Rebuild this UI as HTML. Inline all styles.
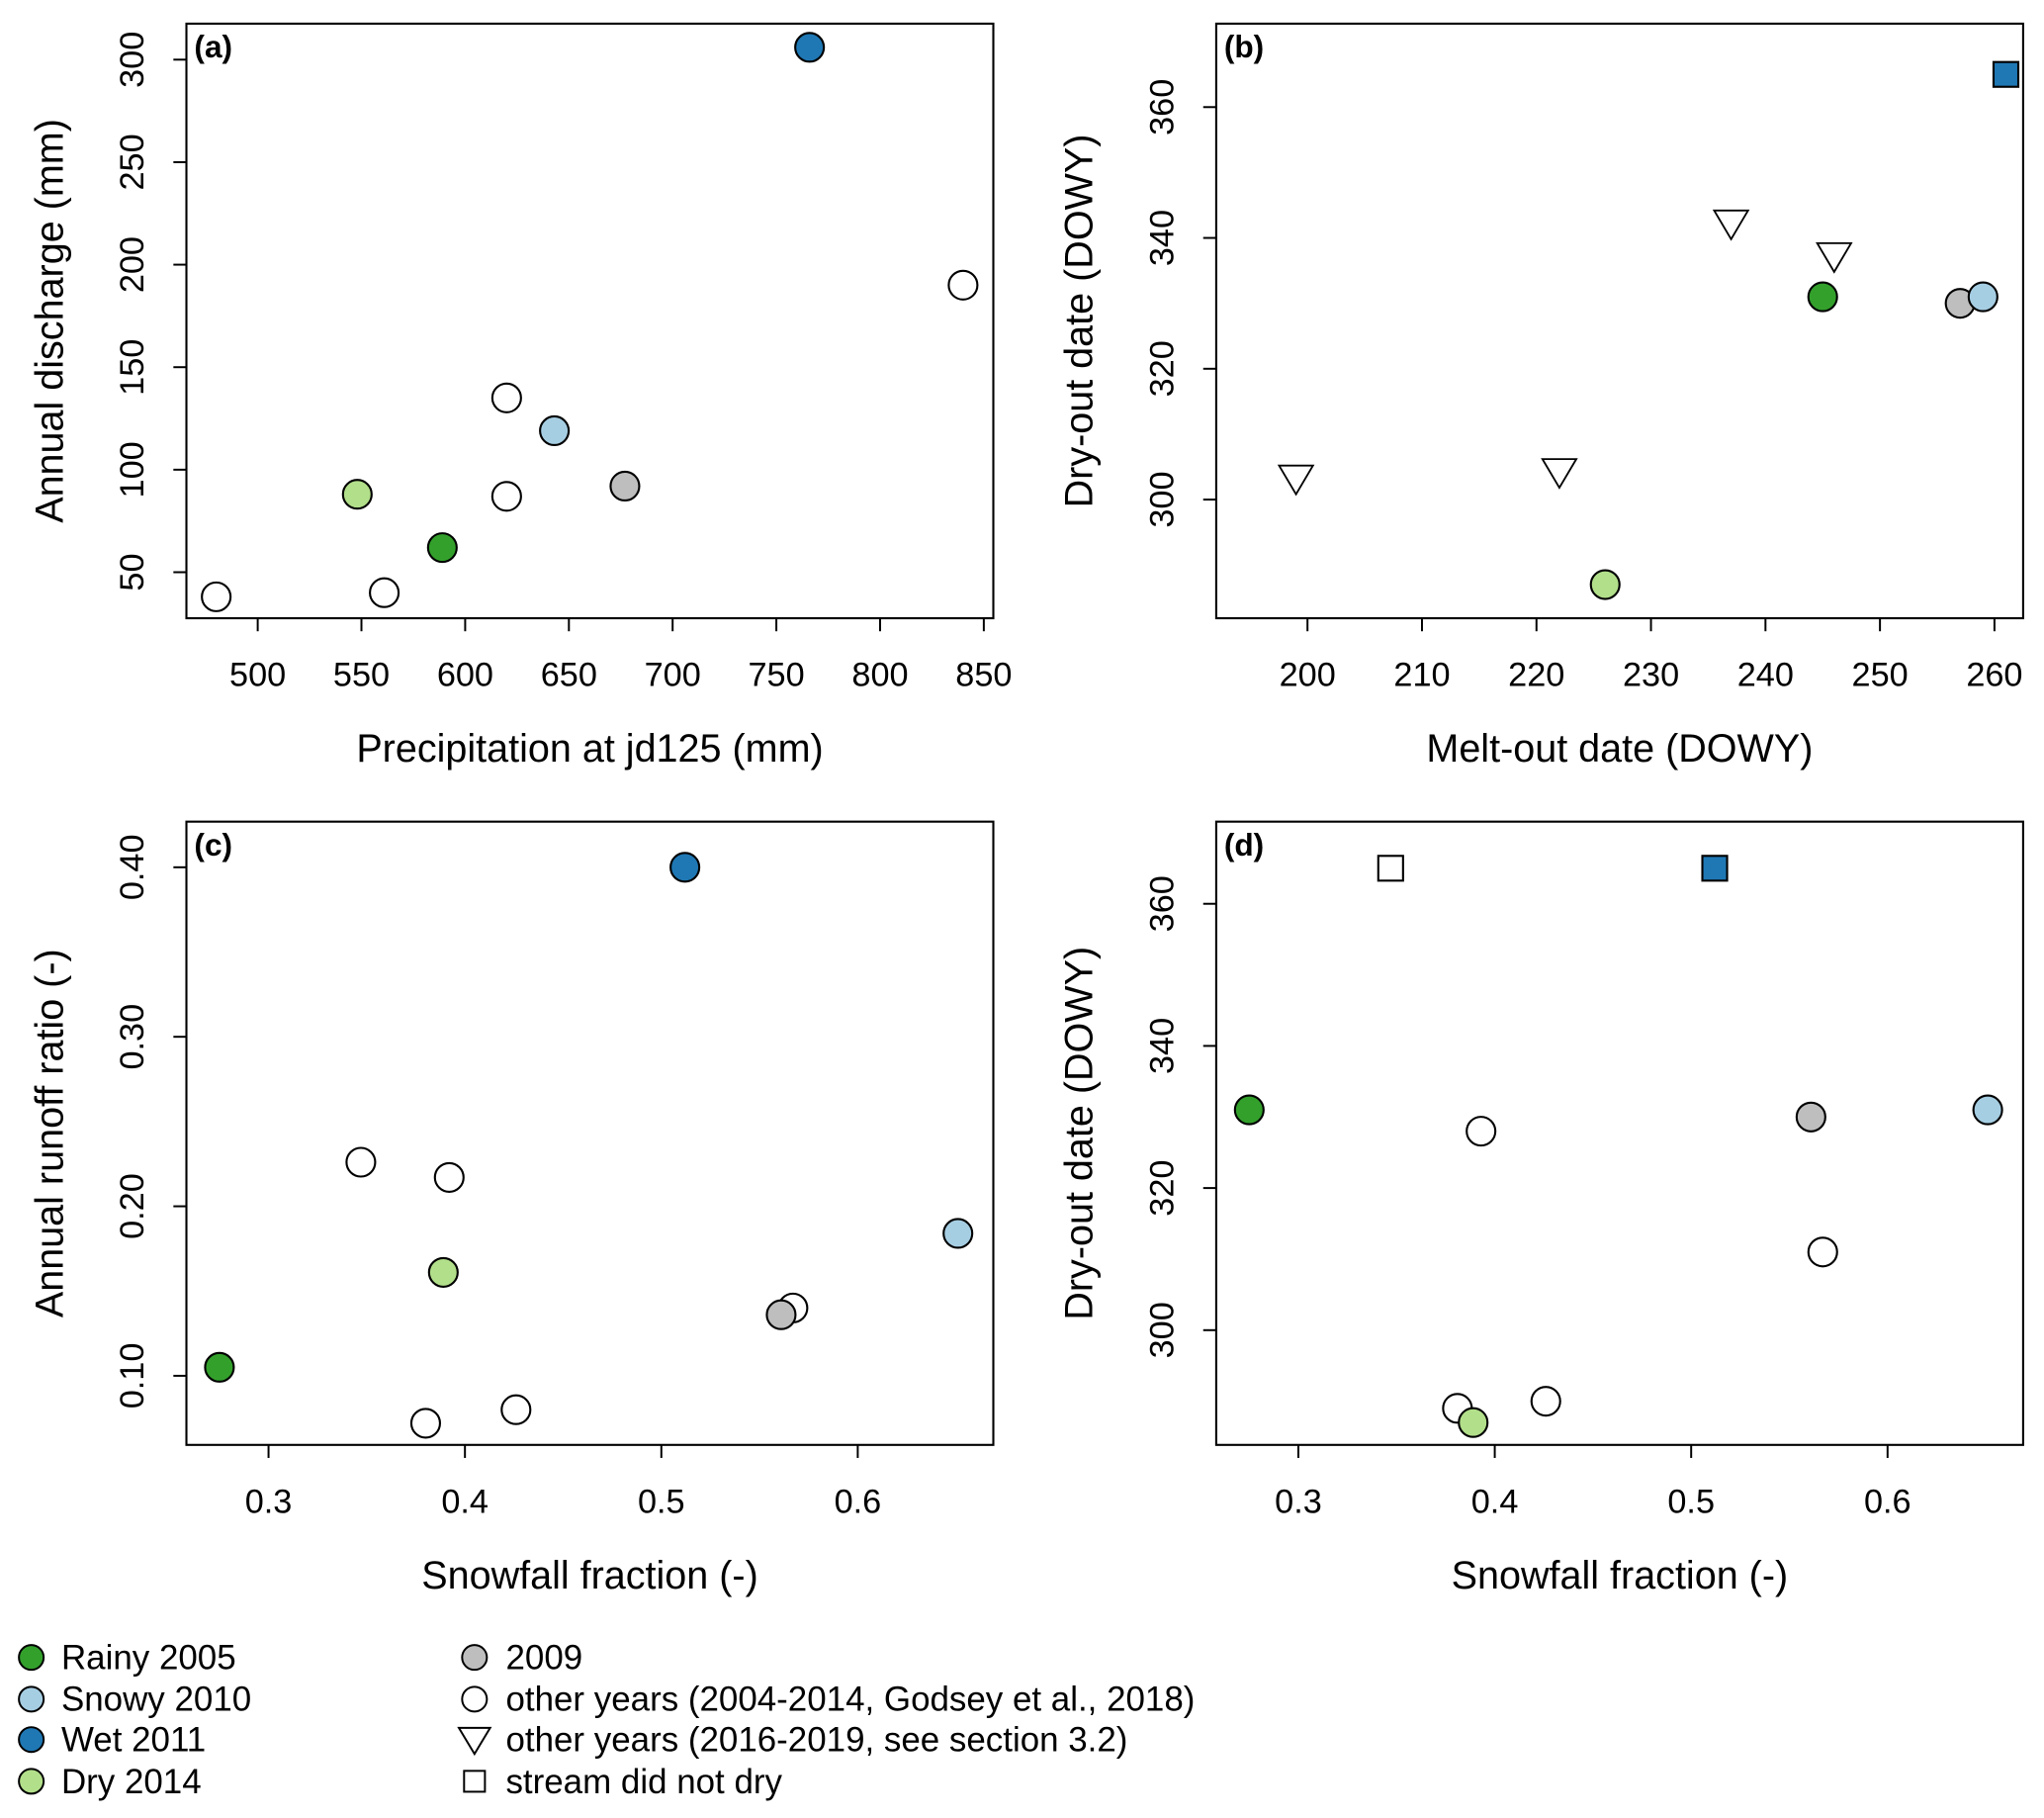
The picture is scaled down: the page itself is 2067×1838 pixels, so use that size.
<!DOCTYPE html>
<html><head><meta charset="utf-8"><style>
html,body{margin:0;padding:0;background:#fff;}
svg{display:block;font-family:"Liberation Sans",Arial,sans-serif;}
</style></head><body>
<svg id="fig" width="2067" height="1838" viewBox="0 0 1568 1394" xmlns="http://www.w3.org/2000/svg"></svg>
<script>
// ---- data ----
const colRainy="#33a02c", colSnowy="#a6cee3", colWet="#1f78b4", colDry="#b2df8a", colGrey="#bebebe", colOther="#ffffff";
// panel a
const aX=[480,561,620,620,840,589,548,643,677,766];
const aY=[38,40,87,135,190,62,88,119,92,306];
const aC=["o","o","o","o","o","rainy","dry","snowy","grey","wet"];
const aS=["c","c","c","c","c","c","c","c","c","c"];
// panel b
const bX=[199,222,237,246,245,226,257,259,261];
const bY=[303,304,342,337,331,287,330,331,365];
const bC=["o","o","o","o","rainy","dry","grey","snowy","wet"];
const bS=["t","t","t","t","c","c","c","c","s"];
// panel c
const cX=[0.275,0.389,0.347,0.392,0.380,0.426,0.567,0.561,0.651,0.512];
const cY=[0.105,0.161,0.226,0.217,0.072,0.080,0.140,0.136,0.184,0.400];
const cC=["rainy","dry","o","o","o","o","o","grey","snowy","wet"];
const cS=["c","c","c","c","c","c","c","c","c","c"];
// panel d
const dX=[0.275,0.347,0.512,0.393,0.381,0.426,0.567,0.389,0.561,0.651];
const dY=[331,365,365,328,289,290,311,287,330,331];
const dC=["rainy","o","wet","o","o","o","o","dry","grey","snowy"];
const dS=["c","s","s","c","c","c","c","c","c","c"];
const aTicksX=[500,550,600,650,700,750,800,850], aTicksY=[50,100,150,200,250,300];
const bTicksX=[200,210,220,230,240,250,260], bTicksY=[300,320,340,360];
const cTicksX=[0.3,0.4,0.5,0.6], cTicksY=[0.10,0.20,0.30,0.40];
const dTicksX=[0.3,0.4,0.5,0.6], dTicksY=[300,320,340,360];
const legendLabels=["Rainy 2005","Snowy 2010","Wet 2011","Dry 2014"];
const legendLabels2=["2009","other years (2004-2014, Godsey et al., 2018)","other years (2016-2019, see section 3.2)","stream did not dry"];

const NS="http://www.w3.org/2000/svg";
const svg=document.getElementById('fig');
const colMap={rainy:colRainy,snowy:colSnowy,wet:colWet,dry:colDry,grey:colGrey,o:colOther};
function mk(tag,attrs,parent){const e=document.createElementNS(NS,tag);for(const k in attrs)e.setAttribute(k,attrs[k]);(parent||svg).appendChild(e);return e;}
function lin(d0,d1,r0,r1){return v=>r0+(v-d0)/(d1-d0)*(r1-r0);}
function marker(g,shape,x,y,fill){
  let e;
  if(shape==="c"){e=mk('circle',{cx:x,cy:y,r:11,fill:fill,stroke:"#000","stroke-width":1.6},g);}
  else if(shape==="s"){e=mk('rect',{x:x-9.5,y:y-9.5,width:19,height:19,fill:fill,stroke:"#000","stroke-width":1.6},g);}
  else {e=mk('polygon',{points:`${x-13},${y-11} ${x+13},${y-11} ${x},${y+11}`,fill:fill,stroke:"#000","stroke-width":1.4},g);}
  return e;
}
function panel(p){
  const g=mk('g',{});
  
  
  const sx=lin(p.xd[0],p.xd[1],p.xr[0],p.xr[1]);
  const sy=lin(p.yd[0],p.yd[1],p.yr[0],p.yr[1]);
  const box=mk('rect',{x:p.box[0],y:p.box[1],width:p.box[2]-p.box[0],height:p.box[3]-p.box[1],fill:"none",stroke:"#000","stroke-width":1.6},g);
  
  
  p.tx.forEach((t,i)=>{
    const x=sx(t);
    mk('line',{x1:x,x2:x,y1:p.box[3],y2:p.box[3]+10,stroke:"#000","stroke-width":1.5},g);
    const tl=mk('text',{x:x,y:p.box[3]+52,"text-anchor":"middle","font-size":26},g);
    tl.textContent=p.fx(t);
    
    
  });
  p.ty.forEach((t,i)=>{
    const y=sy(t);
    mk('line',{x1:p.box[0],x2:p.box[0]-10,y1:y,y2:y,stroke:"#000","stroke-width":1.5},g);
    const tx=p.box[0]-33;
    const tl=mk('text',{x:tx,y:y,"text-anchor":"middle","font-size":26,transform:`rotate(-90 ${tx} ${y})`},g);
    tl.textContent=p.fy(t);
    
    
  });
  const xt=mk('text',{x:(p.box[0]+p.box[2])/2,y:p.box[3]+110,"text-anchor":"middle","font-size":30},g);
  xt.textContent=p.xl;
  
  
  const yx=p.box[0]-95, yy=(p.box[1]+p.box[3])/2;
  const yt=mk('text',{x:yx,y:yy,"text-anchor":"middle","font-size":30,transform:`rotate(-90 ${yx} ${yy})`},g);
  yt.textContent=p.yl;
  
  
  const pl=mk('text',{x:p.box[0]+6,y:p.box[1]+26,"font-size":24,"font-weight":"bold"},g);
  pl.textContent="("+p.id+")";
  
  
  p.X.forEach((v,i)=>{
    const m=marker(g,p.S[i],sx(v),sy(p.Y[i]),colMap[p.C[i]]);
    
    
  });
}
const f0=v=>String(v), f1=v=>v.toFixed(1), f2=v=>v.toFixed(2);
panel({id:"a",box:[143,18,762,474],xd:[500,850],xr:[197.7,754.7],yd:[50,300],yr:[438.7,45.6],X:aX,Y:aY,C:aC,S:aS,tx:aTicksX,ty:aTicksY,fx:f0,fy:f0,xl:"Precipitation at jd125 (mm)",yl:"Annual discharge (mm)"});
panel({id:"b",box:[933,18,1552,474],xd:[200,260],xr:[1003,1530],yd:[300,360],yr:[383,82],X:bX,Y:bY,C:bC,S:bS,tx:bTicksX,ty:bTicksY,fx:f0,fy:f0,xl:"Melt-out date (DOWY)",yl:"Dry-out date (DOWY)"});
panel({id:"c",box:[143,630,762,1108],xd:[0.3,0.6],xr:[206,658],yd:[0.1,0.4],yr:[1055,665],X:cX,Y:cY,C:cC,S:cS,tx:cTicksX,ty:cTicksY,fx:f1,fy:f2,xl:"Snowfall fraction (-)",yl:"Annual runoff ratio (-)"});
panel({id:"d",box:[933,630,1552,1108],xd:[0.3,0.6],xr:[996,1448],yd:[300,360],yr:[1020,693],X:dX,Y:dY,C:dC,S:dS,tx:dTicksX,ty:dTicksY,fx:f1,fy:f0,xl:"Snowfall fraction (-)",yl:"Dry-out date (DOWY)"});

// legend
const lg=mk('g',{});


const lcols=[colRainy,colSnowy,colWet,colDry];
const rows=[1271,1303,1334,1366];
legendLabels.forEach((t,i)=>{
  const m=mk('circle',{cx:24,cy:rows[i],r:9.5,fill:lcols[i],stroke:"#000","stroke-width":1.5},lg);
  
  
  const tx=mk('text',{x:47,y:rows[i]+9,"font-size":26.5},lg);
  tx.textContent=t;
  
  
});
const shapes2=["c","c","t","s"], fills2=[colGrey,"#fff","#fff","#fff"];
legendLabels2.forEach((t,i)=>{
  const x=364,y=rows[i];
  let m;
  if(shapes2[i]==="c") m=mk('circle',{cx:x,cy:y,r:9.5,fill:fills2[i],stroke:"#000","stroke-width":1.5},lg);
  else if(shapes2[i]==="t") m=mk('polygon',{points:`${x-12},${y-9} ${x+12},${y-9} ${x},${y+11}`,fill:"#fff",stroke:"#000","stroke-width":1.5},lg);
  else m=mk('rect',{x:x-8,y:y-8,width:16,height:16,fill:"#fff",stroke:"#000","stroke-width":1.5},lg);
  
  
  const tx=mk('text',{x:388,y:y+9,"font-size":26.5},lg);
  tx.textContent=t;
  
  
});
</script>
</body></html>
